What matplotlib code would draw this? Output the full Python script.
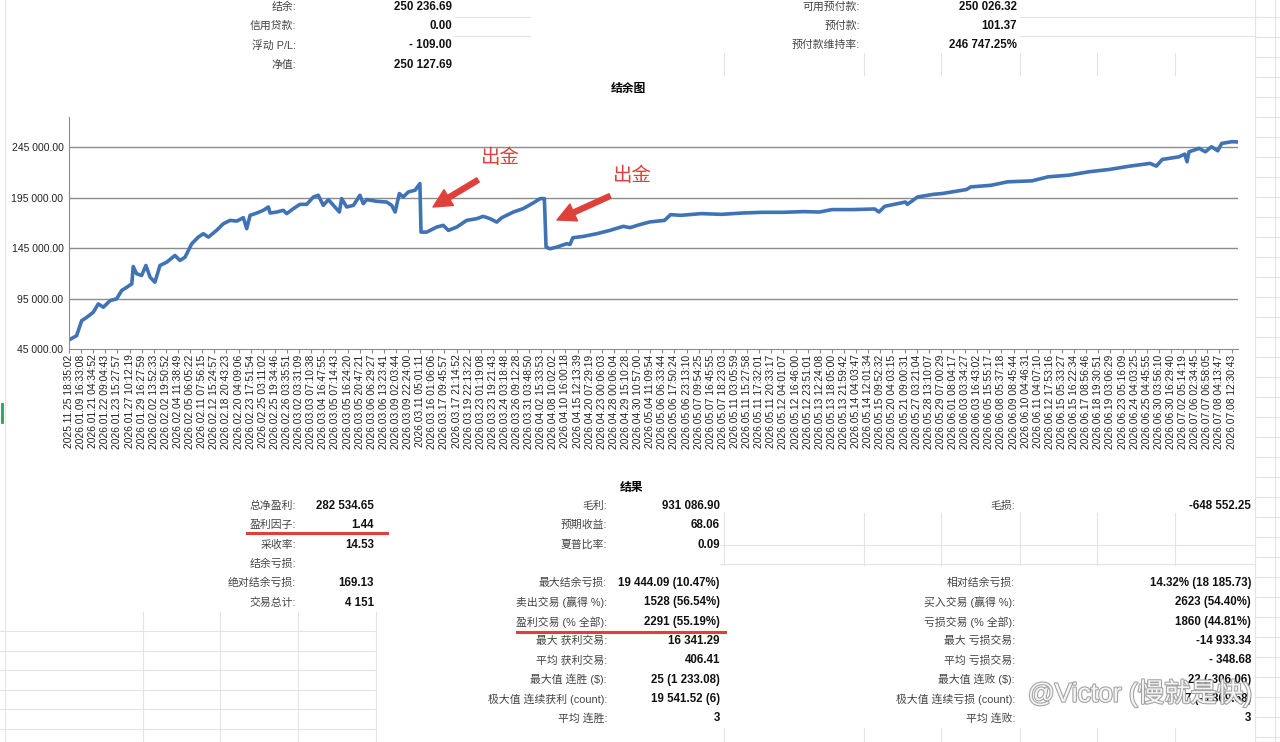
import matplotlib
matplotlib.use('Agg')
import matplotlib.pyplot as plt
import matplotlib.patheffects as pe
from matplotlib.lines import Line2D

plt.rcParams['font.family'] = ['Liberation Sans', 'Noto Sans CJK SC']

### DATA ###
# balance curve (trade number, balance)
trade_no = [0, 27, 45, 63, 86, 104, 122, 146, 169, 187, 205, 223, 228, 240, 258, 273, 288, 305,
            323, 347, 376, 394, 412, 436, 459, 477, 495, 524, 548, 572, 596, 619, 631, 643, 667,
            690, 708, 714, 738, 761, 773, 797, 820, 844, 868, 885, 903, 921, 939, 960, 968, 986,
            1010, 1033, 1045, 1057, 1093, 1128, 1146, 1158, 1173, 1187, 1205, 1229, 1246, 1250,
            1270, 1306, 1329, 1347, 1377, 1412, 1448, 1471, 1495, 1519, 1537, 1578, 1613, 1649,
            1673, 1688, 1694, 1708, 1732, 1767, 1779, 1789, 1826, 1874, 1921, 1968, 1992, 2028,
            2063, 2115, 2136, 2172, 2245, 2317, 2390, 2462, 2535, 2608, 2665, 2709, 2781, 2861,
            2876, 2897, 2970, 2977, 3013, 3071, 3100, 3187, 3202, 3274, 3332, 3419, 3477, 3550,
            3622, 3694, 3767, 3839, 3861, 3882, 3941, 3962, 3970, 3977, 4013, 4035, 4057, 4079,
            4093, 4129, 4151]
balance = [54000, 58200, 73100, 76400, 81400, 89700, 86400, 93000, 94700, 103000, 106200, 109600,
           126800, 119600, 117900, 127800, 116200, 111200, 127800, 131100, 137700, 132800, 136000,
           149400, 155900, 159300, 155900, 162600, 169200, 172500, 171800, 175200, 164300, 177500,
           179800, 182500, 185800, 179800, 180800, 182500, 179200, 184200, 188400, 188400, 195700,
           197400, 187400, 193100, 187400, 180800, 194100, 185800, 187400, 197400, 189100, 193100,
           191400, 190700, 187400, 180800, 199100, 195700, 200700, 202400, 209000, 160900, 160900,
           165900, 167600, 162600, 165900, 172500, 174200, 176500, 174200, 170800, 175200, 180800,
           184200, 189900, 194100, 194100, 146000, 144400, 146000, 149400, 148700, 155300, 156600,
           159300, 162600, 166600, 165300, 168400, 171000, 172500, 178200, 177500, 179200, 178500,
           179800, 180500, 180500, 181200, 180800, 183200, 183200, 183800, 180800, 186500, 190700,
           188400, 195700, 198400, 199100, 203100, 205700, 207300, 210700, 211700, 215700, 217300,
           220700, 223000, 226300, 229000, 226300, 232900, 235500, 238200, 230600, 240500, 243900,
           240500, 245500, 241500, 248800, 250500, 250237]

date_labels = [
    '2025.11.25 18:35:02', '2026.01.09 16:33:08', '2026.01.21 04:34:52', '2026.01.22 09:04:43',
    '2026.01.23 15:27:57', '2026.01.27 10:12:19', '2026.01.29 16:27:59', '2026.02.02 13:52:33',
    '2026.02.02 19:50:52', '2026.02.04 11:38:49', '2026.02.05 06:05:22', '2026.02.11 07:56:15',
    '2026.02.12 15:24:57', '2026.02.18 20:43:23', '2026.02.20 04:09:06', '2026.02.23 17:51:54',
    '2026.02.25 03:11:02', '2026.02.25 19:34:46', '2026.02.26 03:35:51', '2026.03.02 03:31:09',
    '2026.03.03 07:10:38', '2026.03.04 16:47:55', '2026.03.05 07:14:43', '2026.03.05 16:24:20',
    '2026.03.05 20:47:21', '2026.03.06 06:29:27', '2026.03.06 13:23:41', '2026.03.09 02:03:44',
    '2026.03.09 22:24:00', '2026.03.11 05:01:11', '2026.03.16 01:06:06', '2026.03.17 09:45:57',
    '2026.03.17 21:14:52', '2026.03.19 22:13:22', '2026.03.23 01:19:08', '2026.03.23 19:21:43',
    '2026.03.24 03:18:48', '2026.03.26 09:12:28', '2026.03.31 03:48:50', '2026.04.02 15:33:53',
    '2026.04.08 10:02:02', '2026.04.10 16:00:18', '2026.04.15 12:13:39', '2026.04.20 07:29:19',
    '2026.04.23 00:06:03', '2026.04.28 00:06:04', '2026.04.29 15:10:28', '2026.04.30 10:57:00',
    '2026.05.04 11:09:54', '2026.05.06 06:33:44', '2026.05.06 17:50:24', '2026.05.06 23:13:10',
    '2026.05.07 09:54:25', '2026.05.07 16:45:55', '2026.05.07 18:23:03', '2026.05.11 03:05:59',
    '2026.05.11 15:27:58', '2026.05.11 17:32:01', '2026.05.11 20:33:17', '2026.05.12 04:01:07',
    '2026.05.12 16:46:00', '2026.05.12 23:51:01', '2026.05.13 12:24:08', '2026.05.13 18:05:00',
    '2026.05.13 21:59:42', '2026.05.14 04:03:47', '2026.05.14 12:01:34', '2026.05.15 09:52:32',
    '2026.05.20 04:03:15', '2026.05.21 09:00:31', '2026.05.27 03:21:04', '2026.05.28 13:10:07',
    '2026.05.29 07:00:29', '2026.06.01 08:04:17', '2026.06.03 03:34:27', '2026.06.03 16:43:02',
    '2026.06.05 15:55:17', '2026.06.08 05:37:18', '2026.06.09 08:45:44', '2026.06.10 04:46:31',
    '2026.06.11 04:07:10', '2026.06.12 17:53:16', '2026.06.15 05:33:27', '2026.06.15 16:22:34',
    '2026.06.17 08:56:46', '2026.06.18 19:30:51', '2026.06.19 03:06:29', '2026.06.23 05:16:09',
    '2026.06.24 04:03:25', '2026.06.25 04:45:55', '2026.06.30 03:56:10', '2026.06.30 16:29:40',
    '2026.07.02 05:14:19', '2026.07.06 02:34:45', '2026.07.07 06:58:05', '2026.07.08 04:13:47',
    '2026.07.08 12:30:43']
label_step = 43  # one label every 43 trades
yticks = [45000, 95000, 145000, 195000, 245000]

# account summary (top)
top_left_labels = ['结余:', '信用贷款:', '浮动 P/L:', '净值:']
top_left_values = ['250 236.69', '0.00', '- 109.00', '250 127.69']
top_right_labels = ['可用预付款:', '预付款:', '预付款维持率:']
top_right_values = ['250 026.32', '101.37', '246 747.25%']

# results block (bottom)
res1_labels = ['总净盈利:', '盈利因子:', '采收率:', '结余亏损:', '绝对结余亏损:', '交易总计:']
res1_values = ['282 534.65', '1.44', '14.53', '', '169.13', '4 151']
res2_labels = ['毛利:', '预期收益:', '夏普比率:', '', '最大结余亏损:', '卖出交易 (赢得 %):',
               '盈利交易 (% 全部):', '最大 获利交易:', '平均 获利交易:', '最大值 连胜 ($):',
               '极大值 连续获利 (count):', '平均 连胜:']
res2_values = ['931 086.90', '68.06', '0.09', '', '19 444.09 (10.47%)', '1528 (56.54%)',
               '2291 (55.19%)', '16 341.29', '406.41', '25 (1 233.08)', '19 541.52 (6)', '3']
res3_labels = ['毛损:', '', '', '', '相对结余亏损:', '买入交易 (赢得 %):', '亏损交易 (% 全部):',
               '最大 亏损交易:', '平均 亏损交易:', '最大值 连败 ($):', '极大值 连续亏损 (count):',
               '平均 连败:']
res3_values = ['-648 552.25', '', '', '', '14.32% (18 185.73)', '2623 (54.40%)', '1860 (44.81%)',
               '-14 933.34', '- 348.68', '22 (-306.06)', '7 (-5 369.58)', '3']

W, H = 1280, 742
fig = plt.figure(figsize=(12.8, 7.42), dpi=100)


def fx(x):
    return x / W


def fy(y):
    return 1 - y / H


# faint spreadsheet cell lines
cell = '#e4e4e4'
def hline(y, x0, x1):
    fig.add_artist(Line2D([fx(x0), fx(x1)], [fy(y), fy(y)], color=cell, lw=0.8))
def vline(x, y0, y1):
    fig.add_artist(Line2D([fx(x), fx(x)], [fy(y0), fy(y1)], color=cell, lw=0.8))

vline(1255, 0, 742)
vline(1275, 0, 742)
for yy in range(17, 742, 20):
    hline(yy, 1255, 1280)
for xx in [724, 864, 941, 1020, 1097, 1175]:
    vline(xx, 53, 75)
    vline(xx, 513, 565)
    vline(xx, 728, 742)
hline(17, 455, 530)
hline(36, 455, 530)
hline(17, 1020, 1255)
hline(36, 1020, 1255)
hline(545, 720, 1255)
hline(564, 720, 1255)
for xx in [143, 220, 298, 376]:
    vline(xx, 612, 742)
for yy in [631, 651, 670, 690, 709, 729]:
    hline(yy, 0, 376)
vline(5, 0, 742)
fig.add_artist(Line2D([fx(2), fx(2)], [fy(404), fy(422)], color='#21a366', lw=2))

### CHART ###
ax = fig.add_axes([fx(69), fy(349), fx(1238 - 69), (349 - 117) / H])
ax.plot(trade_no, balance, color='#3f73b5', lw=2.6, solid_joinstyle='round')
ax.set_xlim(0, trade_no[-1])
ax.set_ylim(45000, 275000)
ax.set_yticks(yticks)
ax.set_yticklabels([f'{v:,.2f}'.replace(',', ' ') for v in yticks], fontsize=7.5, color='#222')
ax.set_xticks([i * label_step for i in range(len(date_labels))])
ax.set_xticklabels(date_labels, rotation=90, fontsize=7.4, color='#222')
ax.tick_params(axis='y', length=0, pad=4)
ax.tick_params(axis='x', length=3, color='#888', pad=1)
for yv in yticks[1:]:
    ax.axhline(yv, color='#8c8c8c', lw=1, zorder=0)
for s in ['top', 'right']:
    ax.spines[s].set_visible(False)
ax.spines['left'].set_color('#8c8c8c')
ax.spines['bottom'].set_color('#8c8c8c')

fig.text(fx(628), fy(89), '结余图', ha='center', va='center', fontsize=8.5, fontweight='bold')

# withdrawal annotations
red = '#e0403a'
fig.text(fx(500), fy(158), '出金', ha='center', va='center', fontsize=14, color=red)
fig.text(fx(632), fy(176), '出金', ha='center', va='center', fontsize=14, color=red)
for (x0, y0, x1, y1) in [(478, 180, 433, 207), (610, 196, 557, 220)]:
    ax.annotate('', xy=(fx(x1), fy(y1)), xytext=(fx(x0), fy(y0)), xycoords='figure fraction',
                textcoords='figure fraction',
                arrowprops=dict(arrowstyle='simple,head_length=1.1,head_width=1.1,tail_width=0.3',
                                color=red, mutation_scale=12, shrinkA=0, shrinkB=0))

### TEXT BLOCKS ###
lab_c = '#444444'


def block(labels, values, xl, xv, y0, dy):
    for i, (l, v) in enumerate(zip(labels, values)):
        y = y0 + i * dy
        if l:
            fig.text(fx(xl), fy(y), l, ha='right', va='center', fontsize=7.8, color=lab_c)
        if v:
            fig.text(fx(xv), fy(y), v, ha='right', va='center', fontsize=8.3,
                     fontweight='bold', color='#111')


block(top_left_labels, top_left_values, 296, 452, 7, 19.2)
block(top_right_labels, top_right_values, 860, 1017, 7, 19.2)

fig.text(fx(632), fy(488), '结果', ha='center', va='center', fontsize=8.5, fontweight='bold')
block(res1_labels, res1_values, 296, 374, 506, 19.3)
block(res2_labels, res2_values, 607, 720, 506, 19.3)
block(res3_labels, res3_values, 1015, 1251, 506, 19.3)

# red underlines
fig.add_artist(Line2D([fx(247), fx(387)], [fy(533), fy(533)], color=red, lw=2.2))
fig.add_artist(Line2D([fx(517), fx(725)], [fy(632), fy(632)], color=red, lw=2.2))

# watermark (sits over the table, as in the screenshot)
fig.text(fx(1140), fy(693), '@Victor (慢就是快)', ha='center', va='center', fontsize=19,
         color='white', alpha=0.9,
         path_effects=[pe.withStroke(linewidth=1.6, foreground='#9a9a9a')])

fig.savefig('out.png', dpi=100)
